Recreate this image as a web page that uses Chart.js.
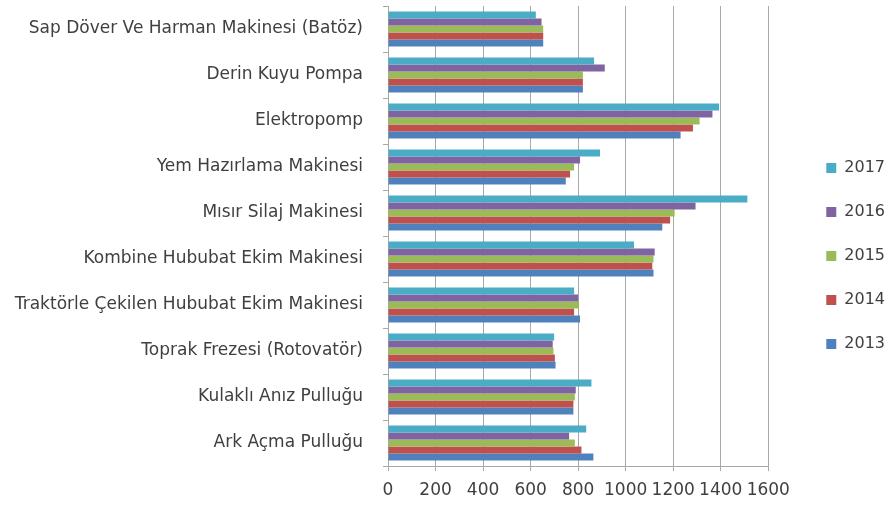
<!DOCTYPE html>
<html>
<head>
<meta charset="utf-8">
<script src="https://cdn.jsdelivr.net/npm/chart.js@4/dist/chart.umd.min.js"></script>
<style>
  html, body { margin: 0; padding: 0; background: #fff; }
  #wrap { width: 895px; height: 506px; position: relative; }
</style>
</head>
<body>
<div id="wrap"><canvas id="chart"></canvas></div>
<script>
const categories = [
    'Sap Döver Ve Harman Makinesi (Batöz)',
    'Derin Kuyu Pompa',
    'Elektropomp',
    'Yem Hazırlama Makinesi',
    'Mısır Silaj Makinesi',
    'Kombine Hububat Ekim Makinesi',
    'Traktörle Çekilen Hububat Ekim Makinesi',
    'Toprak Frezesi (Rotovatör)',
    'Kulaklı Anız Pulluğu',
    'Ark Açma Pulluğu'
];

const values2017 = [622, 867, 1393, 892, 1512, 1035, 783, 699, 856, 834];
const values2016 = [646, 912, 1365, 808, 1294, 1122, 800, 693, 790, 762];
const values2015 = [653, 820, 1311, 783, 1206, 1117, 803, 696, 786, 786];
const values2014 = [653, 820, 1283, 766, 1187, 1112, 783, 702, 780, 814];
const values2013 = [653, 820, 1231, 748, 1154, 1117, 808, 705, 780, 864];

const fontFamily = '"DejaVu Sans", sans-serif';
const textColor = '#3f3f3f';

const makeSet = (label, data, color) => ({
    label: label,
    data: data,
    backgroundColor: color,
    borderWidth: 0,
    categoryPercentage: 0.76,
    barPercentage: 1.0
});

// nudge the legend to the right, like the original layout
const legendShift = {
    id: 'legendShift',
    afterLayout(chart) {
        chart.legend.left += 30;
        chart.legend.right += 30;
    }
};

const ctx = document.getElementById('chart').getContext('2d');
new Chart(ctx, {
    type: 'bar',
    data: {
        labels: categories,
        datasets: [
            makeSet('2017', values2017, '#4bacc6'),
            makeSet('2016', values2016, '#8064a2'),
            makeSet('2015', values2015, '#9bbb59'),
            makeSet('2014', values2014, '#c0504d'),
            makeSet('2013', values2013, '#4f81bd')
        ]
    },
    options: {
        indexAxis: 'y',
        responsive: true,
        maintainAspectRatio: false,
        animation: false,
        layout: { padding: { top: 6, bottom: 0, right: 30, left: 0 } },
        plugins: {
            tooltip: { enabled: false },
            legend: {
                position: 'right',
                labels: {
                    font: { family: fontFamily, size: 16 },
                    color: textColor,
                    boxWidth: 10,
                    boxHeight: 10,
                    padding: 28
                }
            }
        },
        scales: {
            x: {
                min: 0,
                max: 1600,
                ticks: {
                    stepSize: 200,
                    font: { family: fontFamily, size: 17 },
                    color: textColor,
                    padding: 9,
                    maxRotation: 0,
                    minRotation: 0,
                    autoSkip: false,
                    callback: (value) => value
                },
                grid: { color: '#a8a8a8', tickLength: 5 },
                border: { color: '#a8a8a8' },
                afterFit: (scale) => {
                    scale.height = 40;
                    scale.paddingBottom = 0;
                }
            },
            y: {
                ticks: {
                    font: { family: fontFamily, size: 17 },
                    color: textColor,
                    padding: 20
                },
                grid: { drawOnChartArea: false, color: '#a8a8a8', tickLength: 5 },
                border: { color: '#a8a8a8' },
                afterFit: (scale) => {
                    scale.width = 388;
                    scale.paddingTop = 0;
                    scale.paddingBottom = 0;
                }
            }
        }
    },
    plugins: [legendShift]
});
</script>
</body>
</html>
